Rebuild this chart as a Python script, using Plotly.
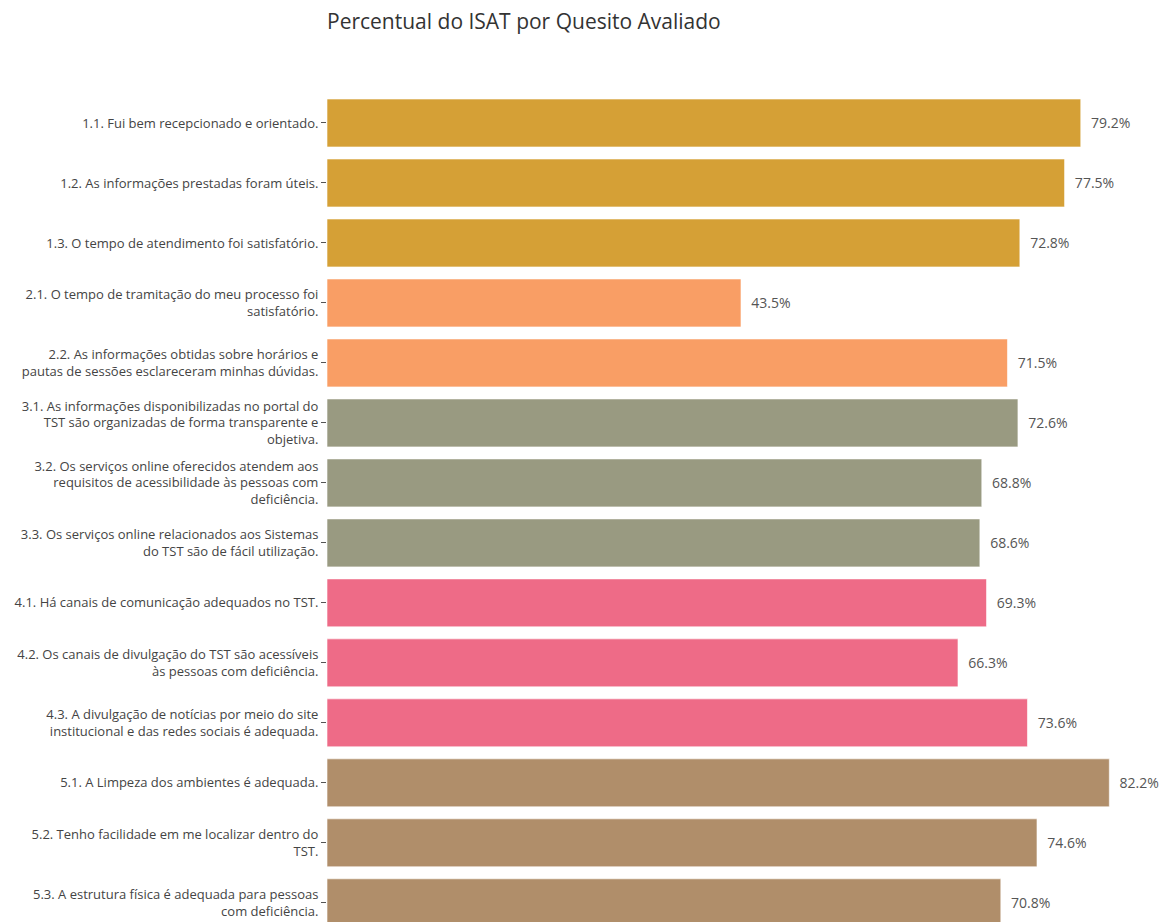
import plotly.graph_objects as go

categories = [
    "1.1. Fui bem recepcionado e orientado.",
    "1.2. As informações prestadas foram úteis.",
    "1.3. O tempo de atendimento foi satisfatório.",
    "2.1. O tempo de tramitação do meu processo foi<br>satisfatório.",
    "2.2. As informações obtidas sobre horários e<br>pautas de sessões esclareceram minhas dúvidas.",
    "3.1. As informações disponibilizadas no portal do<br>TST são organizadas de forma transparente e<br>objetiva.",
    "3.2. Os serviços online oferecidos atendem aos<br>requisitos de acessibilidade às pessoas com<br>deficiência.",
    "3.3. Os serviços online relacionados aos Sistemas<br>do TST são de fácil utilização.",
    "4.1. Há canais de comunicação adequados no TST.",
    "4.2. Os canais de divulgação do TST são acessíveis<br>às pessoas com deficiência.",
    "4.3. A divulgação de notícias por meio do site<br>institucional e das redes sociais é adequada.",
    "5.1. A Limpeza dos ambientes é adequada.",
    "5.2. Tenho facilidade em me localizar dentro do<br>TST.",
    "5.3. A estrutura física é adequada para pessoas<br>com deficiência.",
]
values = [79.2, 77.5, 72.8, 43.5, 71.5, 72.6, 68.8, 68.6, 69.3, 66.3, 73.6, 82.2, 74.6, 70.8]
groups = [1, 1, 1, 2, 2, 3, 3, 3, 4, 4, 4, 5, 5, 5]
group_colors = {1: "#D5A036", 2: "#F99E65", 3: "#999A81", 4: "#EE6B87", 5: "#B08E6A"}

colors = [group_colors[g] for g in groups]
labels = ["\u00a0\u00a0" + f"{v:.1f}%" for v in values]

FONT = "Open Sans"

fig = go.Figure(
    go.Bar(
        x=values,
        y=categories,
        orientation="h",
        marker=dict(color=colors, line=dict(color="rgba(255,255,255,0.6)", width=1)),
        width=0.8,
        text=labels,
        textposition="outside",
        textfont=dict(size=14, color="#555555", family=FONT),
        cliponaxis=False,
    )
)

fig.update_layout(
    width=1160,
    height=922,
    margin=dict(l=327, r=5, t=93, b=0),
    paper_bgcolor="white",
    plot_bgcolor="white",
    showlegend=False,
    title=dict(
        text="Percentual do ISAT por Quesito Avaliado",
        x=327 / 1160,
        xanchor="left",
        y=0.976,
        yanchor="middle",
        font=dict(size=21, color="#333333", family=FONT),
    ),
    font=dict(family=FONT, color="#444444"),
    bargap=0.2,
)

fig.update_xaxes(
    range=[0, 87],
    visible=False,
    showgrid=False,
    zeroline=False,
)
fig.update_yaxes(
    range=[13.32, -0.5],
    showgrid=False,
    ticks="outside",
    ticklen=5,
    tickcolor="#555555",
    tickfont=dict(size=13, color="#444444", family=FONT),
    showline=False,
    ticklabelstandoff=0,
)

fig.write_html("out.html")
